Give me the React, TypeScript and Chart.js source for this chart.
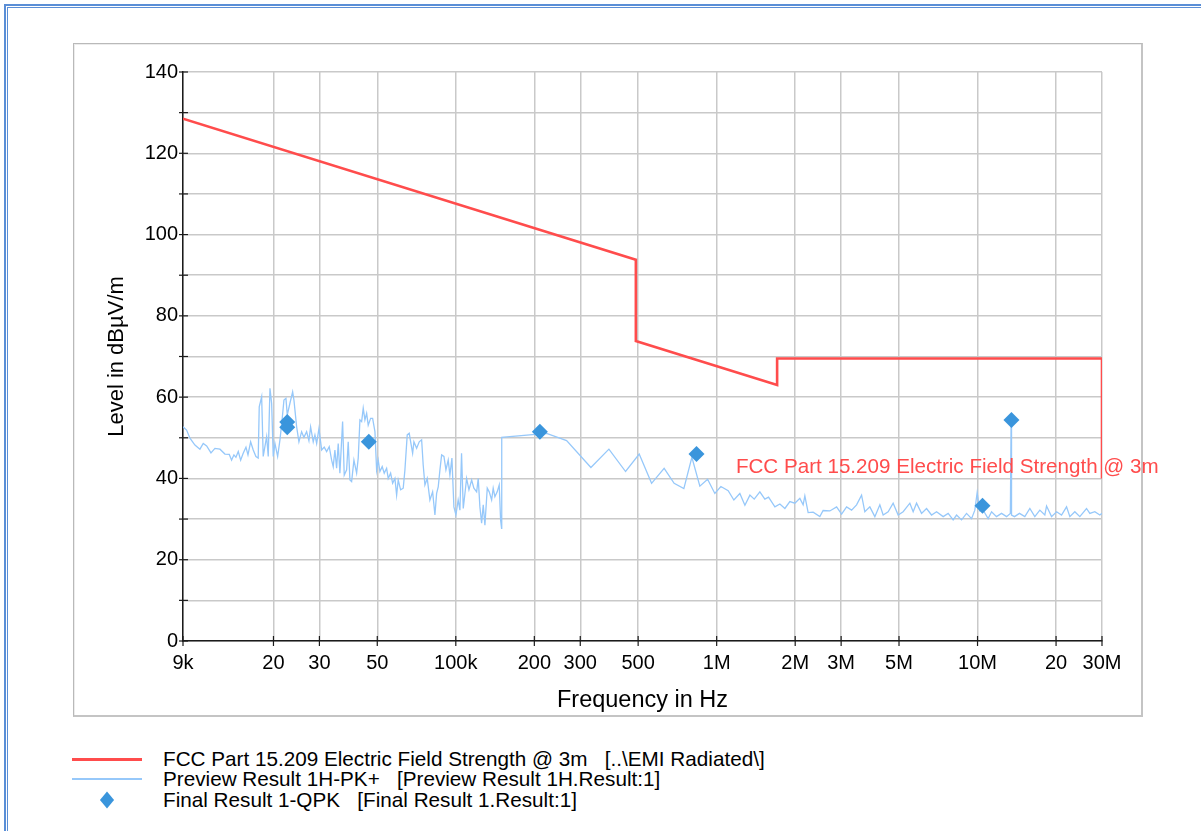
import React, { useEffect, useRef } from 'react';
import { Chart, registerables } from 'chart.js';

Chart.register(...registerables);

const FONT = '"Liberation Sans", Arial, sans-serif';

// ---------- axis ticks ----------
const X_TICKS = [9000, 20000, 30000, 50000, 100000, 200000, 300000, 500000, 1000000, 2000000, 3000000, 5000000, 10000000, 20000000, 30000000];
const X_TICK_LABELS = ['9k', '20', '30', '50', '100k', '200', '300', '500', '1M', '2M', '3M', '5M', '10M', '20', '30M'];
const Y_TICKS = [0, 10, 20, 30, 40, 50, 60, 70, 80, 90, 100, 110, 120, 130, 140];
const Y_TICK_LABELS = ['0', '', '20', '', '40', '', '60', '', '80', '', '100', '', '120', '', '140'];

// ---------- limit line: FCC Part 15.209 @ 3m ----------
const LIMIT_FREQ = [9000, 490000, 490000, 1705000, 1705000, 30000000, 30000000];
const LIMIT_LEVEL = [128.5, 93.8, 73.8, 63.0, 69.5, 69.5, 40.0];

// ---------- preview result 1H-PK+ ----------
const PREVIEW_FREQ = [
  9000, 9290, 9570, 10000, 10450, 10760, 11090, 11520, 11930, 12470, 13030, 13540, 13820, 14110, 14360, 14660, 14970, 15310, 15690, 15970,
  16350, 16730, 17130, 17480, 17640, 18020, 18270, 18830, 19100, 19390, 19680, 19960, 20260, 20750, 21180, 21610, 21940, 22330, 22590, 23130,
  23690, 23960, 24540, 25040, 25640, 26170, 26800, 27350, 27760, 28410, 28840, 29280, 29880, 30600, 31310, 31980, 32720, 33420, 33890, 34400,
  34920, 35420, 35950, 36820, 37350, 38150, 38690, 39280, 39870, 40690, 41670, 42260, 42900, 43550, 44170, 44840, 45520, 46160, 47150, 47990,
  48980, 49710, 50420, 51180, 52220, 53160, 54300, 55070, 56250, 57260, 58430, 59310, 60150, 61440, 62870, 63820, 65130, 66290, 67290, 68310,
  69100, 70760, 72410, 73960, 74990, 76140, 77700, 79570, 81500, 83170, 84420, 85630, 86930, 88240, 90050, 91650, 93520, 94930, 96630, 98330,
  100100, 102100, 103700, 105200, 106800, 108400, 110000, 112300, 115000, 117300, 120200, 121900, 123700, 125600, 127400, 129300, 132000, 134300, 137200, 139100,
  141200, 144100, 146700, 148500, 149800, 150000, 222900, 265900, 329500, 386300, 447500, 504700, 563000, 629000, 687000, 748500, 803500, 862000, 923000, 984000,
  1038000, 1107000, 1164000, 1227000, 1283000, 1341000, 1393000, 1464000, 1530000, 1581000, 1672000, 1747000, 1826000, 1908000, 1994000, 2084000, 2145000, 2178000, 2242000, 2343000,
  2486000, 2559000, 2716000, 2882000, 3012000, 3148000, 3290000, 3438000, 3593000, 3698000, 3865000, 4040000, 4222000, 4347000, 4543000, 4748000, 4962000, 5186000, 5502000, 5665000,
  5837000, 6101000, 6376000, 6664000, 6965000, 7383000, 7716000, 8064000, 8310000, 8685000, 9076000, 9485000, 9765000, 9966000, 10205000, 10510000, 10980000, 11320000, 11820000, 12360000,
  12920000, 13360000, 13450000, 13500000, 13860000, 14480000, 15180000, 15870000, 16580000, 17330000, 18110000, 18390000, 19220000, 20090000, 20990000, 21940000, 22590000, 23600000, 24670000, 26170000,
  26950000, 28160000, 29430000, 30000000,
];
const PREVIEW_LEVEL = [
  52.7, 51.9, 49.9, 48.2, 47.2, 48.6, 48.0, 46.3, 47.4, 47.2, 46.0, 45.9, 44.5, 45.8, 45.2, 46.6, 44.5, 46.2, 47.7, 45.8,
  49.0, 47.0, 45.4, 45.0, 57.6, 60.1, 45.4, 50.3, 45.4, 62.2, 58.5, 45.4, 48.6, 45.4, 49.5, 54.8, 59.3, 59.7, 55.6, 58.5,
  61.3, 59.3, 52.7, 49.0, 51.5, 50.1, 51.5, 49.3, 52.7, 49.0, 50.7, 48.6, 52.3, 47.0, 47.7, 46.6, 47.8, 44.5, 42.9, 47.0,
  42.5, 48.6, 41.3, 54.0, 40.8, 42.1, 49.0, 39.6, 39.2, 44.5, 41.3, 45.0, 54.4, 54.0, 57.3, 54.4, 56.0, 53.1, 54.8, 54.8,
  51.5, 42.1, 44.5, 41.7, 42.9, 41.3, 42.5, 40.0, 41.3, 38.8, 40.0, 35.9, 39.6, 37.2, 37.6, 42.1, 50.7, 51.1, 48.6, 46.2,
  49.0, 47.4, 49.0, 49.5, 43.3, 38.4, 40.0, 34.7, 36.7, 31.0, 36.3, 37.9, 42.1, 45.8, 45.4, 42.1, 44.5, 40.8, 45.0, 33.0,
  31.0, 34.7, 32.2, 46.2, 32.6, 36.3, 40.0, 37.2, 39.6, 37.6, 36.7, 40.0, 33.0, 29.0, 33.5, 28.5, 37.6, 36.7, 34.7, 37.6,
  35.5, 36.7, 38.4, 29.8, 27.7, 50.1, 51.1, 49.3, 42.7, 47.2, 41.7, 46.0, 38.8, 42.5, 38.8, 37.5, 45.2, 38.1, 39.8, 36.3,
  38.0, 37.0, 34.7, 36.3, 33.4, 35.9, 34.9, 36.7, 34.9, 35.4, 33.0, 33.7, 32.6, 34.3, 33.9, 35.1, 33.5, 35.7, 31.6, 31.7,
  30.6, 32.1, 32.0, 33.0, 31.2, 33.0, 32.2, 33.5, 35.9, 31.8, 33.0, 30.6, 33.5, 31.0, 31.8, 33.9, 31.0, 31.8, 33.9, 31.8,
  33.9, 31.4, 32.6, 31.0, 31.8, 30.6, 31.4, 29.8, 31.0, 29.8, 31.4, 30.1, 32.2, 36.5, 32.0, 32.2, 30.1, 31.8, 30.6, 31.4,
  30.6, 31.4, 54.4, 31.0, 30.6, 31.4, 30.6, 32.6, 30.6, 32.2, 31.0, 33.2, 30.6, 31.8, 31.0, 33.0, 30.6, 31.8, 30.6, 32.6,
  31.4, 31.8, 31.0, 31.4,
];

// ---------- final result 1-QPK ----------
const FINAL_FREQ = [22590, 22590, 46400, 210000, 837000, 10450000, 13490000];
const FINAL_LEVEL = [53.9, 52.6, 49.0, 51.5, 46.0, 33.3, 54.4];

// ---------- text ----------
const LIMIT_LABEL = 'FCC Part 15.209 Electric Field Strength @ 3m   [..\\EMI Radiated\\]';
const PREVIEW_LABEL = 'Preview Result 1H-PK+   [Preview Result 1H.Result:1]';
const FINAL_LABEL = 'Final Result 1-QPK   [Final Result 1.Result:1]';
const ANNOTATION_TEXT = 'FCC Part 15.209 Electric Field Strength @ 3m';
const ANNOTATION_FREQ = 1185000;
const ANNOTATION_LEVEL = 42.8;

const RED = '#ff4c4c';
const LIGHT_BLUE = '#96c8fa';
const DIAMOND_BLUE = '#3a95dc';

const toPoints = (xs: number[], ys: number[]) => xs.map((x, i) => ({ x, y: ys[i] }));

const crossTicksPlugin = {
  id: 'crossTicks',
  afterDraw(chart: any) {
    const { ctx, scales } = chart;
    const xs = scales.x;
    const ys = scales.y;
    ctx.save();
    ctx.strokeStyle = '#1a1a1a';
    ctx.lineWidth = 1.2;
    xs.ticks.forEach((t: any) => {
      const px = xs.getPixelForValue(t.value);
      ctx.beginPath();
      ctx.moveTo(px, ys.bottom - 5);
      ctx.lineTo(px, ys.bottom + 5);
      ctx.stroke();
    });
    ys.ticks.forEach((t: any) => {
      const py = ys.getPixelForValue(t.value);
      ctx.beginPath();
      ctx.moveTo(xs.left - 4, py);
      ctx.lineTo(xs.left + 5, py);
      ctx.stroke();
    });
    ctx.restore();
  },
};

const annotationPlugin = {
  id: 'limitAnnotation',
  afterDatasetsDraw(chart: any) {
    const { ctx, scales } = chart;
    ctx.save();
    ctx.font = `20.6px ${FONT}`;
    ctx.fillStyle = RED;
    ctx.textAlign = 'left';
    ctx.textBaseline = 'middle';
    ctx.fillText(ANNOTATION_TEXT, scales.x.getPixelForValue(ANNOTATION_FREQ), scales.y.getPixelForValue(ANNOTATION_LEVEL));
    ctx.restore();
  },
};

export default function App() {
  const canvasRef = useRef<HTMLCanvasElement>(null);

  useEffect(() => {
    if (!canvasRef.current) return;
    const chart = new Chart(canvasRef.current, {
      type: 'scatter',
      data: {
        datasets: [
          {
            label: FINAL_LABEL,
            data: toPoints(FINAL_FREQ, FINAL_LEVEL),
            showLine: false,
            pointStyle: 'rectRot',
            pointRadius: 8,
            pointBackgroundColor: DIAMOND_BLUE,
            pointBorderColor: DIAMOND_BLUE,
            pointBorderWidth: 0,
            order: 0,
          },
          {
            label: LIMIT_LABEL,
            data: toPoints(LIMIT_FREQ, LIMIT_LEVEL),
            showLine: true,
            borderColor: RED,
            borderWidth: 2.6,
            pointRadius: 0,
            tension: 0,
            order: 1,
          },
          {
            label: PREVIEW_LABEL,
            data: toPoints(PREVIEW_FREQ, PREVIEW_LEVEL),
            showLine: true,
            borderColor: LIGHT_BLUE,
            borderWidth: 1.3,
            pointRadius: 0,
            tension: 0,
            order: 2,
          },
        ],
      },
      options: {
        animation: false,
        responsive: false,
        maintainAspectRatio: false,
        layout: { padding: { left: 104, top: 72, right: 99, bottom: 5 } },
        plugins: {
          legend: { display: false },
          tooltip: { enabled: false },
        },
        scales: {
          x: {
            type: 'logarithmic',
            min: 9000,
            max: 30000000,
            afterBuildTicks: (s: any) => {
              s.ticks = X_TICKS.map((v) => ({ value: v }));
            },
            afterFit: (s: any) => {
              s.height = 74;
            },
            ticks: {
              autoSkip: false,
              maxRotation: 0,
              minRotation: 0,
              padding: 10,
              color: '#000',
              font: { family: FONT, size: 20 },
              callback: (_v: any, i: number) => X_TICK_LABELS[i],
            },
            grid: { color: '#c9c9c9', lineWidth: 1.5, drawTicks: false },
            border: { color: '#1a1a1a', width: 1.5 },
            title: {
              display: true,
              text: 'Frequency in Hz',
              color: '#000',
              font: { family: FONT, size: 23.5 },
              padding: 0,
            },
          },
          y: {
            type: 'linear',
            min: 0,
            max: 140,
            afterBuildTicks: (s: any) => {
              s.ticks = Y_TICKS.map((v) => ({ value: v }));
            },
            afterFit: (s: any) => {
              s.width = 79;
            },
            ticks: {
              autoSkip: false,
              padding: 5,
              color: '#000',
              font: { family: FONT, size: 20 },
              callback: (_v: any, i: number) => Y_TICK_LABELS[i],
            },
            grid: { color: '#c9c9c9', lineWidth: 1.5, drawTicks: false },
            border: { color: '#1a1a1a', width: 1.5 },
            title: {
              display: true,
              text: 'Level in dBµV/m',
              color: '#000',
              font: { family: FONT, size: 22 },
              padding: 0,
            },
          },
        },
      },
      plugins: [crossTicksPlugin, annotationPlugin],
    } as any);
    return () => chart.destroy();
  }, []);

  const legendRows = [
    { label: LIMIT_LABEL, kind: 'thick', color: RED, cy: 759 },
    { label: PREVIEW_LABEL, kind: 'thin', color: LIGHT_BLUE, cy: 779 },
    { label: FINAL_LABEL, kind: 'diamond', color: DIAMOND_BLUE, cy: 800 },
  ];

  return (
    <div
      style={{
        position: 'absolute',
        left: 0,
        top: 0,
        width: 1201,
        height: 831,
        overflow: 'hidden',
        background: '#fff',
        fontFamily: FONT,
      }}
    >
      <div
        style={{
          position: 'absolute',
          left: 4,
          top: 4,
          width: 1400,
          height: 1000,
          borderLeft: '2px solid #5a8ed6',
          borderTop: '2px solid #5a8ed6',
        }}
      />
      <div
        style={{
          position: 'absolute',
          left: 7,
          top: 7,
          width: 1400,
          height: 1000,
          borderLeft: '1px solid #5a8ed6',
          borderTop: '1px solid #5a8ed6',
        }}
      />
      <div
        style={{
          position: 'absolute',
          left: 73,
          top: 43,
          width: 1067,
          height: 671,
          borderTop: '1px solid #b9b9b9',
          borderLeft: '1px solid #b9b9b9',
          borderRight: '2px solid #c4c4c4',
          borderBottom: '2px solid #c4c4c4',
          boxShadow: 'inset 1px 1px 0 #ececec',
        }}
      />
      <canvas
        ref={canvasRef}
        width={1201}
        height={720}
        style={{ position: 'absolute', left: 0, top: 0, width: 1201, height: 720 }}
      />
      {legendRows.map((r) => (
        <React.Fragment key={r.label}>
          {r.kind === 'diamond' ? (
            <div
              style={{
                position: 'absolute',
                left: 102,
                top: r.cy - 5,
                width: 10,
                height: 10,
                background: r.color,
                transform: 'scaleY(1.2) rotate(45deg)',
              }}
            />
          ) : (
            <div
              style={{
                position: 'absolute',
                left: 72,
                top: r.kind === 'thick' ? r.cy - 1.5 : r.cy - 0.75,
                width: 70,
                height: r.kind === 'thick' ? 3 : 1.5,
                background: r.color,
              }}
            />
          )}
          <div
            style={{
              position: 'absolute',
              left: 163,
              top: r.cy - 11,
              height: 22,
              lineHeight: '22px',
              fontSize: 20.7,
              color: '#000',
              whiteSpace: 'pre',
            }}
          >
            {r.label}
          </div>
        </React.Fragment>
      ))}
    </div>
  );
}
